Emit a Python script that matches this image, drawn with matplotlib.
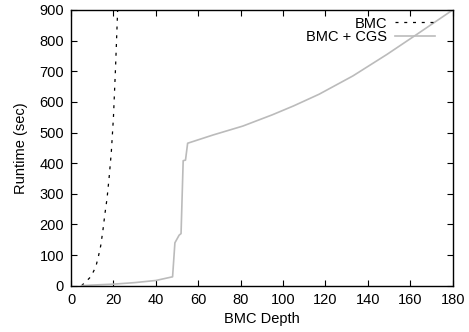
import matplotlib
matplotlib.use("Agg")
import matplotlib.pyplot as plt

# BMC only (dashed)
bmc_depth = [5, 6, 7, 8, 9, 10, 11, 12, 13, 14, 15, 16, 17, 18, 19, 20, 21, 22]
bmc_time = [0, 7, 13, 20, 27, 38, 52, 70, 98, 130, 178, 235, 285, 355, 435, 548, 712, 900]

# BMC + CGS (gray)
cgs_depth = [5, 10, 20, 30, 40, 47.9, 49, 51, 51.9, 52.9, 54, 55, 67, 81, 95,
             105, 117, 133, 149, 163, 180]
cgs_time = [0, 2, 5, 10, 17, 29, 140, 165, 170, 408, 410, 465, 492, 521, 558,
            587, 625, 685, 755, 820, 900]

xticks = list(range(0, 181, 20))
yticks = list(range(0, 901, 100))

plt.rcParams['font.family'] = ['Liberation Sans', 'DejaVu Sans']
plt.rcParams['font.size'] = 10.5

fig = plt.figure(figsize=(4.69, 3.32), dpi=100)
ax = fig.add_axes([0.1514, 0.1395, 0.8138, 0.8304])

bmc_style = dict(color='black', lw=0.9, dashes=(2.4, 4.6))
cgs_style = dict(color='#bbbbbb', lw=1.2)

ax.plot(bmc_depth, bmc_time, **bmc_style)
ax.plot(cgs_depth, cgs_time, **cgs_style)

ax.set_xlim(0, 180)
ax.set_ylim(0, 900)
ax.set_xticks(xticks)
ax.set_yticks(yticks)
ax.tick_params(direction='in', length=4, width=0.8, top=True, right=True,
               labelsize=10.5, pad=5)
for s in ax.spines.values():
    s.set_linewidth(1.0)

ax.set_xlabel("BMC Depth", fontsize=10.5, labelpad=4)
ax.set_ylabel("Runtime (sec)", fontsize=10.5, labelpad=8)

# gnuplot-style key: right aligned text, sample to the right
labels = ["BMC", "BMC + CGS"]
styles = [bmc_style, cgs_style]
rows = [0.955, 0.907]
for lab, st, yy in zip(labels, styles, rows):
    ax.text(0.828, yy, lab, transform=ax.transAxes, ha='right',
            va='center_baseline', fontsize=10.5)
    ax.plot([0.849, 0.954], [yy, yy], transform=ax.transAxes, **st)

fig.savefig("out.png", dpi=100)
